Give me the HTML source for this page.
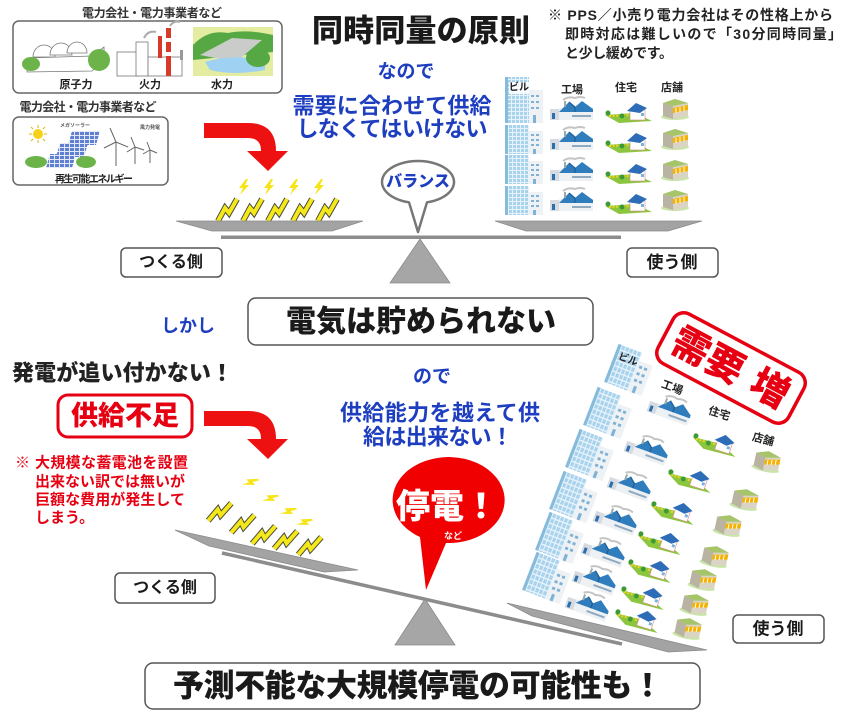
<!DOCTYPE html>
<html><head><meta charset="utf-8"><title>同時同量の原則</title>
<style>
html,body{margin:0;padding:0;background:#fff;width:857px;height:721px;overflow:hidden}
svg{display:block}
text{font-family:"Liberation Sans","Noto Sans CJK JP",sans-serif;font-weight:700;dominant-baseline:central}
.h{font-weight:900}
.bl{fill:#1e3ec0}
.rd{fill:#e60012}
.dk{fill:#1a1a1a}
</style></head><body>
<svg width="857" height="721" viewBox="0 0 857 721" xmlns="http://www.w3.org/2000/svg">
<defs>
<pattern id="pw" width="4" height="4" patternUnits="userSpaceOnUse"><rect width="4" height="4" fill="#a9d2ec"/><rect x="3" width="1" height="4" fill="#e6f3fb"/><rect y="3" width="4" height="1" fill="#e6f3fb"/></pattern>
<pattern id="pv" width="5" height="4" patternUnits="userSpaceOnUse"><rect width="5" height="4" fill="#5f7fd0"/><rect x="4" width="1" height="4" fill="#e3e9f8"/><rect y="3" width="5" height="1" fill="#e3e9f8"/></pattern>
<g id="sb"><polygon points="9,0 2,9 6,9 3,16 12,6 8,6 11,0" fill="#f7e416"/></g>
<g id="bb"><path d="M1,23 L8,10 L12,15 L20,1" fill="none" stroke="#4a4a3a" stroke-width="6" stroke-miterlimit="3"/><path d="M1,23 L8,10 L12,15 L20,1" fill="none" stroke="#f4e81a" stroke-width="4" stroke-miterlimit="3"/></g>
<g id="bt"><rect x="0" y="0" width="24" height="29" fill="url(#pw)"/><rect x="0" y="0" width="3" height="29" fill="#86bbdc"/><rect x="24" y="6" width="14" height="23" fill="#eef2f4"/><g fill="#7fb2d6"><rect x="26" y="9" width="3" height="2"/><rect x="31" y="9" width="3" height="2"/><rect x="26" y="14" width="3" height="2"/><rect x="31" y="14" width="3" height="2"/><rect x="26" y="19" width="3" height="2"/><rect x="31" y="19" width="3" height="2"/><rect x="28" y="24" width="3" height="5"/></g></g>
<g id="fa"><path d="M13,3 q5,-4 12,-2 q5,-2 10,0" stroke="#c4c4c4" stroke-width="2" fill="none"/><rect x="0" y="12" width="9" height="11" fill="#d5dbe0"/><rect x="2" y="16" width="3" height="6" fill="#2a6fae"/><rect x="9" y="11" width="34" height="12" fill="#eef1f3"/><path d="M9,15 L19,5 L25,10 L32,4 L43,12 L43,15 Z" fill="#2f7dbd"/><path d="M19,5 L25,10 L25,15" fill="none" stroke="#1d5d94" stroke-width="1.2"/><rect x="14" y="4" width="2" height="6" fill="#9aa"/><rect x="22" y="18" width="19" height="2" fill="#8fa9c0"/></g>
<g id="ho"><path d="M0,13 L30,11 L47,19 L14,21 Z" fill="#8cc63f"/><path d="M4,14 L28,13" stroke="#f2d21b" stroke-width="2" stroke-dasharray="2,1.5"/><circle cx="3" cy="11" r="2.5" fill="#3c9a35"/><circle cx="17" cy="14" r="2.5" fill="#3c9a35"/><rect x="25" y="7" width="15" height="11" fill="#fff" stroke="#d88" stroke-width="0.6"/><path d="M22,9 L31,1 L42,6 L35,11 Z" fill="#2d6cb6"/><rect x="36" y="11" width="3" height="3" fill="#7ab3de"/></g>
<g id="sh"><ellipse cx="15" cy="21" rx="14" ry="3" fill="#c9e5a8"/><path d="M3,7 L15,3 L28,7 L28,20 L15,23 L3,20 Z" fill="#d9d4c3"/><path d="M3,7 L13,10 L13,23 L3,20 Z" fill="#b9b3a2"/><path d="M3,7 L15,3 L28,7 L13,10 Z" fill="#a6c46a"/><path d="M13,12 L28,9 L28,14 L13,17 Z" fill="#f5b200"/><path d="M16,12 v5 M20,11 v5 M24,10 v5" stroke="#fff" stroke-width="1"/></g>
</defs>

<!-- ===== Left panels ===== -->
<text x="152" y="13" text-anchor="middle" font-size="12" fill="#333" textLength="140">電力会社・電力事業者など</text>
<rect x="13" y="21" width="269" height="72" rx="6" fill="#fff" stroke="#666" stroke-width="1.5"/>
<g stroke="#777" stroke-width="0.8">
<path d="M27,58 L92,56 L104,47 L104,60 L92,71 L27,72 Z" fill="#fff"/>
<path d="M33,57 a11,12 0 0 1 22,0 Z" fill="#fff"/>
<path d="M50,55 a11,12 0 0 1 22,0 Z" fill="#fff"/>
<path d="M67,53 a10,11 0 0 1 20,0 Z" fill="#fff"/>
</g>
<ellipse cx="31" cy="64" rx="9" ry="7" fill="#6cb34a"/>
<ellipse cx="99" cy="60" rx="11" ry="11" fill="#6cb34a"/>
<g stroke="#777" stroke-width="0.8" fill="#fff">
<rect x="117" y="52" width="22" height="24"/><rect x="136" y="42" width="12" height="34"/><rect x="148" y="57" width="34" height="19"/>
</g>
<rect x="166" y="28" width="5" height="48" fill="#d83a2a"/><rect x="166" y="38" width="5" height="4" fill="#fff"/><rect x="166" y="52" width="5" height="4" fill="#fff"/>
<rect x="158" y="36" width="4" height="22" fill="#d83a2a"/><rect x="180" y="50" width="3" height="10" fill="#999"/>
<path d="M144,38 q4,-8 12,-6 M170,26 q4,-6 10,-4" stroke="#aaa" stroke-width="2" fill="none"/>
<rect x="193" y="27" width="80" height="49" fill="#e4eca2"/>
<path d="M193,45 q15,-16 35,-12 q20,-4 45,2 L273,52 L193,60 Z" fill="#55a843"/>
<path d="M200,55 L232,38 L262,40 L236,62 Z" fill="#c9ccc9"/>
<path d="M205,62 q25,-8 60,-2 L265,70 q-30,6 -55,0 Z" fill="#9fd2f2"/>
<ellipse cx="258" cy="58" rx="12" ry="9" fill="#55a843"/>
<text x="76" y="85" text-anchor="middle" font-size="11" fill="#222">原子力</text>
<text x="150" y="85" text-anchor="middle" font-size="11" fill="#222">火力</text>
<text x="222" y="85" text-anchor="middle" font-size="11" fill="#222">水力</text>

<text x="88" y="107" text-anchor="middle" font-size="12" fill="#333" textLength="137">電力会社・電力事業者など</text>
<rect x="13" y="117" width="155" height="68" rx="6" fill="#fff" stroke="#666" stroke-width="1.5"/>
<circle cx="38" cy="134" r="5" fill="#f7d117"/>
<g stroke="#e0b800" stroke-width="1"><path d="M38,125 v3 M38,140 v3 M29,134 h3 M44,134 h3 M31,127 l2,2 M45,141 l-2,-2 M31,141 l2,-2 M45,127 l-2,2"/></g>
<text x="60" y="126" font-size="5" fill="#555" font-weight="400">メガソーラー</text>
<path d="M72,131 L100,131 L96,145 L68,145 Z" fill="url(#pv)"/>
<path d="M60,143 L88,143 L84,157 L56,157 Z" fill="url(#pv)"/>
<path d="M50,154 L76,154 L72,168 L46,168 Z" fill="url(#pv)"/>
<ellipse cx="36" cy="162" rx="11" ry="6" fill="#6cb34a"/>
<ellipse cx="86" cy="162" rx="10" ry="6" fill="#6cb34a"/>
<g stroke="#666" stroke-width="1" fill="none">
<path d="M116,142 L116,166 M116,142 L110,128 M116,142 L104,148 M116,142 L128,147"/>
<path d="M135,147 L135,164 M135,147 L131,137 M135,147 L127,152 M135,147 L144,150"/>
<path d="M150,150 L150,163 M150,150 L147,142 M150,150 L143,154 M150,150 L157,153"/>
</g>
<text x="140" y="128" font-size="5" fill="#555" font-weight="400">風力発電</text>
<text x="94" y="180" text-anchor="middle" font-size="10" fill="#222" textLength="78">再生可能エネルギー</text>

<path d="M204,123 L248,123 Q276,123 276,151 L288,151 L268,171 L247,151 L261,151 Q261,138 248,138 L204,138 Z" fill="#ee1111"/>

<use href="#sb" x="237" y="179"/><use href="#sb" x="262" y="179"/><use href="#sb" x="287" y="179"/><use href="#sb" x="312" y="179"/>
<use href="#bb" x="217" y="198"/><use href="#bb" x="242" y="198"/><use href="#bb" x="267" y="198"/><use href="#bb" x="292" y="198"/><use href="#bb" x="317" y="198"/>

<text x="421" y="31" text-anchor="middle" font-size="31" class="h dk" textLength="218">同時同量の原則</text>
<text x="406" y="72" text-anchor="middle" font-size="19" class="bl">なので</text>
<text x="392" y="106" text-anchor="middle" font-size="22" class="bl" textLength="199">需要に合わせて供給</text>
<text x="392" y="129" text-anchor="middle" font-size="22" class="bl" textLength="191">しなくてはいけない</text>

<text x="548" y="15" font-size="14" fill="#222" textLength="285">※ PPS／小売り電力会社はその性格上から</text>
<text x="565" y="34" font-size="14" fill="#222" textLength="277">即時対応は難しいので「30分同時同量」</text>
<text x="565" y="53" font-size="14" fill="#222" textLength="108">と少し緩めです。</text>

<rect x="505" y="77" width="24" height="46" fill="url(#pw)"/><rect x="505" y="77" width="3" height="46" fill="#86bbdc"/>
<rect x="529" y="90" width="14" height="33" fill="#eef2f4"/>
<g fill="#7fb2d6"><rect x="531" y="95" width="3" height="2"/><rect x="536" y="95" width="3" height="2"/><rect x="531" y="101" width="3" height="2"/><rect x="536" y="101" width="3" height="2"/><rect x="531" y="107" width="3" height="2"/><rect x="536" y="107" width="3" height="2"/><rect x="533" y="115" width="3" height="8"/></g>
<rect x="509" y="82" width="20" height="12" fill="#fff" opacity="0.85"/>
<use href="#bt" x="505" y="125"/><use href="#bt" x="505" y="155"/><use href="#bt" x="505" y="186"/>
<use href="#fa" x="550" y="97"/><use href="#fa" x="550" y="127"/><use href="#fa" x="550" y="158"/><use href="#fa" x="550" y="188"/>
<use href="#ho" x="605" y="102"/><use href="#ho" x="605" y="132"/><use href="#ho" x="605" y="163"/><use href="#ho" x="605" y="193"/>
<use href="#sh" x="660" y="96"/><use href="#sh" x="660" y="126"/><use href="#sh" x="660" y="157"/><use href="#sh" x="660" y="187"/>
<text x="519" y="88" text-anchor="middle" font-size="10" fill="#222">ビル</text>
<text x="572" y="90" text-anchor="middle" font-size="11" fill="#222">工場</text>
<text x="626" y="88" text-anchor="middle" font-size="11" fill="#222">住宅</text>
<text x="672" y="88" text-anchor="middle" font-size="11" fill="#222">店舗</text>

<polygon points="176,221 363,221 332,231 212,231" fill="#a3a3a3" stroke="#8a8a8a" stroke-width="0.8"/>
<polygon points="495,221 702,221 668,231 526,231" fill="#a3a3a3" stroke="#8a8a8a" stroke-width="0.8"/>
<rect x="221" y="235.5" width="400" height="3.5" fill="#8c8c8c"/>
<polygon points="420,239 390,283 450,283" fill="#a6a6a6" stroke="#8a8a8a" stroke-width="0.8"/>
<path d="M409,202.3 A36,21 0 1 1 427,202.3 L418,232 Z" fill="#fff" stroke="#777" stroke-width="2.5" stroke-linejoin="round"/>
<text x="418" y="182" text-anchor="middle" font-size="16" class="bl h">バランス</text>

<rect x="121" y="248" width="101" height="29" rx="5" fill="#fff" stroke="#555" stroke-width="1.5"/>
<text x="171" y="262.5" text-anchor="middle" font-size="16" class="dk">つくる側</text>
<rect x="627" y="248" width="91" height="29" rx="5" fill="#fff" stroke="#555" stroke-width="1.5"/>
<text x="672" y="262.5" text-anchor="middle" font-size="17" class="dk">使う側</text>

<text x="188" y="326" text-anchor="middle" font-size="18" class="bl">しかし</text>
<rect x="248" y="298" width="345" height="47" rx="8" fill="#fff" stroke="#555" stroke-width="1.5"/>
<text x="421" y="322" text-anchor="middle" font-size="30" class="h dk" textLength="270">電気は貯められない</text>

<text x="12" y="373" font-size="22" class="h" fill="#222" textLength="221">発電が追い付かない！</text>
<rect x="58" y="395" width="134" height="42" rx="10" fill="#fff" stroke="#e60012" stroke-width="3"/>
<text x="125" y="416" text-anchor="middle" font-size="27" class="rd h" textLength="108">供給不足</text>
<text x="15" y="463" font-size="15" class="rd">※</text>
<text x="35" y="463" font-size="15" class="rd" textLength="153">大規模な蓄電池を設置</text>
<text x="35" y="482" font-size="15" class="rd" textLength="150">出来ない訳では無いが</text>
<text x="35" y="500" font-size="15" class="rd" textLength="150">巨額な費用が発生して</text>
<text x="35" y="518" font-size="15" class="rd">しまう。</text>

<path d="M204,411 L248,411 Q276,411 276,439 L288,439 L268,459 L247,439 L261,439 Q261,426 248,426 L204,426 Z" fill="#ee1111"/>

<text x="432" y="377" text-anchor="middle" font-size="19" class="bl">ので</text>
<text x="440" y="413" text-anchor="middle" font-size="22" class="bl" textLength="200">供給能力を越えて供</text>
<text x="438" y="437" text-anchor="middle" font-size="22" class="bl" textLength="150">給は出来ない！</text>

<use href="#sb" transform="translate(252,472) rotate(50)"/>
<use href="#sb" transform="translate(272,488) rotate(50)"/>
<use href="#sb" transform="translate(290,501) rotate(50)"/>
<use href="#sb" transform="translate(306,512) rotate(50)"/>
<use href="#bb" transform="translate(212,498) rotate(12)"/>
<use href="#bb" transform="translate(235,510) rotate(12)"/>
<use href="#bb" transform="translate(256,521) rotate(12)"/>
<use href="#bb" transform="translate(278,526) rotate(12)"/>
<use href="#bb" transform="translate(302,532) rotate(12)"/>

<polygon points="175,530 358,570 324,572 209,546" fill="#a3a3a3" stroke="#8a8a8a" stroke-width="0.8"/>
<line x1="222" y1="553" x2="622" y2="644" stroke="#8c8c8c" stroke-width="3.5"/>
<polygon points="425,599 395,645 455,645" fill="#a6a6a6" stroke="#8a8a8a" stroke-width="0.8"/>

<g>
<use href="#bt" transform="translate(630,370) rotate(21) scale(1.05,1.4) translate(-19,-14.5)"/>
<use href="#bt" transform="translate(609,413) rotate(21) scale(1.05,1.4) translate(-19,-14.5)"/>
<use href="#bt" transform="translate(591,455) rotate(21) scale(1.05,1.4) translate(-19,-14.5)"/>
<use href="#bt" transform="translate(575,497) rotate(21) scale(1.05,1.4) translate(-19,-14.5)"/>
<use href="#bt" transform="translate(561,538) rotate(21) scale(1.05,1.4) translate(-19,-14.5)"/>
<use href="#bt" transform="translate(548,578) rotate(21) scale(1.05,1.4) translate(-19,-14.5)"/>

<use href="#fa" transform="translate(670,408) rotate(20) translate(-21,-12)"/>
<use href="#fa" transform="translate(647,448) rotate(20) translate(-21,-12)"/>
<use href="#fa" transform="translate(630,484) rotate(20) translate(-21,-12)"/>
<use href="#fa" transform="translate(616,518) rotate(20) translate(-21,-12)"/>
<use href="#fa" transform="translate(604,550) rotate(20) translate(-21,-12)"/>
<use href="#fa" transform="translate(595,578) rotate(20) translate(-21,-12)"/>
<use href="#fa" transform="translate(588,604) rotate(20) translate(-21,-12)"/>

<use href="#ho" transform="translate(715,442) rotate(18) translate(-23,-11)"/>
<use href="#ho" transform="translate(690,478) rotate(18) translate(-23,-11)"/>
<use href="#ho" transform="translate(673,510) rotate(18) translate(-23,-11)"/>
<use href="#ho" transform="translate(660,540) rotate(18) translate(-23,-11)"/>
<use href="#ho" transform="translate(650,568) rotate(18) translate(-23,-11)"/>
<use href="#ho" transform="translate(643,595) rotate(18) translate(-23,-11)"/>
<use href="#ho" transform="translate(637,618) rotate(18) translate(-23,-11)"/>

<use href="#sh" transform="translate(767,460) rotate(12) translate(-15,-12)"/>
<use href="#sh" transform="translate(745,498) rotate(12) translate(-15,-12)"/>
<use href="#sh" transform="translate(728,524) rotate(12) translate(-15,-12)"/>
<use href="#sh" transform="translate(715,555) rotate(12) translate(-15,-12)"/>
<use href="#sh" transform="translate(703,578) rotate(12) translate(-15,-12)"/>
<use href="#sh" transform="translate(695,603) rotate(12) translate(-15,-12)"/>
<use href="#sh" transform="translate(688,627) rotate(12) translate(-15,-12)"/>
</g>
<text transform="translate(628,360) rotate(20)" text-anchor="middle" font-size="10" fill="#222">ビル</text>
<text transform="translate(672,388) rotate(20)" text-anchor="middle" font-size="11" fill="#222">工場</text>
<text transform="translate(719,414) rotate(18)" text-anchor="middle" font-size="11" fill="#222">住宅</text>
<text transform="translate(763,440) rotate(15)" text-anchor="middle" font-size="11" fill="#222">店舗</text>

<polygon points="507,603 707,650 668,652 532,616" fill="#a3a3a3" stroke="#8a8a8a" stroke-width="0.8"/>

<path d="M420,537 A56,43 0 1 1 446,543 L426,590 Z" fill="#f00000"/>
<text x="447" y="507" text-anchor="middle" font-size="34" class="h" fill="#fff">停電！</text>
<text x="453" y="536" text-anchor="middle" font-size="9" fill="#fff">など</text>

<g transform="translate(731,368) rotate(28)">
<rect x="-74" y="-28" width="148" height="56" rx="12" fill="none" stroke="#e60012" stroke-width="3.5"/>
<text x="-26" y="1" text-anchor="middle" font-size="38" class="rd h">需要</text>
<text x="44" y="1" text-anchor="middle" font-size="38" class="rd h">増</text>
</g>

<rect x="115" y="573" width="100" height="30" rx="5" fill="#fff" stroke="#555" stroke-width="1.5"/>
<text x="165" y="588" text-anchor="middle" font-size="16" class="dk">つくる側</text>
<rect x="733" y="615" width="91" height="28" rx="5" fill="#fff" stroke="#555" stroke-width="1.5"/>
<text x="778" y="629" text-anchor="middle" font-size="17" class="dk">使う側</text>

<rect x="145" y="663" width="555" height="46" rx="8" fill="#fff" stroke="#555" stroke-width="1.5"/>
<text x="418" y="686" text-anchor="middle" font-size="31" class="h dk" textLength="490">予測不能な大規模停電の可能性も！</text>
</svg>
</body></html>
